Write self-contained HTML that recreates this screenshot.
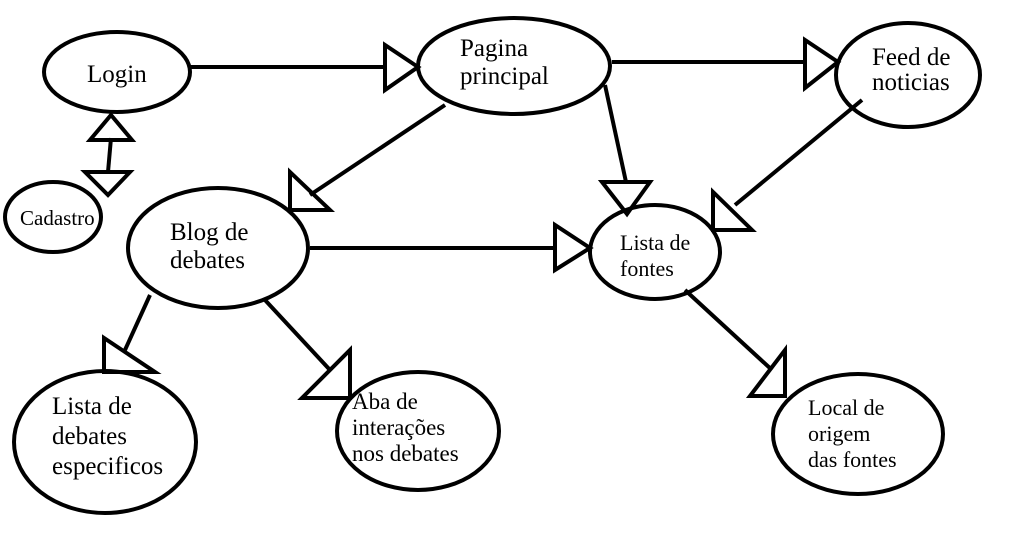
<!DOCTYPE html>
<html><head><style>
html,body{margin:0;padding:0;background:#fff;}
svg{display:block}
text{font-family:"Liberation Serif",serif;font-size:25px;fill:#000}
</style></head><body>
<svg width="1024" height="541" viewBox="0 0 1024 541" xmlns="http://www.w3.org/2000/svg">
<g fill="none" stroke="#000" stroke-width="4">
<ellipse cx="117" cy="72" rx="73" ry="40"/>
<ellipse cx="53" cy="217" rx="48" ry="35"/>
<ellipse cx="514" cy="66" rx="96" ry="48"/>
<ellipse cx="908" cy="75" rx="72" ry="52"/>
<ellipse cx="218" cy="248" rx="90" ry="60"/>
<ellipse cx="655" cy="252" rx="65" ry="47"/>
<ellipse cx="105" cy="442" rx="91" ry="71"/>
<ellipse cx="418" cy="431" rx="81" ry="59"/>
<ellipse cx="858" cy="434" rx="85" ry="60"/>
<line x1="190" y1="67" x2="385" y2="67"/>
<polygon points="385,45 385,90 418,67"/>
<line x1="111" y1="138" x2="108" y2="172"/>
<polygon points="90,140 132,140 111,115"/>
<polygon points="85,172 130,172 108,195"/>
<line x1="445" y1="105" x2="310" y2="195"/>
<polygon points="290,172 290,210 330,210"/>
<line x1="612" y1="62" x2="805" y2="62"/>
<polygon points="805,40 805,88 838,62"/>
<line x1="605" y1="85" x2="626" y2="182"/>
<polygon points="602,182 650,182 627,214"/>
<line x1="862" y1="100" x2="735" y2="205"/>
<polygon points="713,192 713,230 752,230"/>
<line x1="310" y1="248" x2="555" y2="248"/>
<polygon points="555,225 555,270 590,248"/>
<line x1="150" y1="295" x2="125" y2="350"/>
<polygon points="104,338 104,372 155,372"/>
<line x1="265" y1="300" x2="330" y2="370"/>
<polygon points="350,350 350,398 302,398"/>
<line x1="685" y1="290" x2="772" y2="370"/>
<polygon points="785,350 785,396 750,396"/>
</g>
<text x="87" y="82">Login</text>
<text x="20" y="225" style="font-size:21px">Cadastro</text>
<text x="460" y="56">Pagina</text>
<text x="460" y="84">principal</text>
<text x="872" y="65">Feed de</text>
<text x="872" y="90">noticias</text>
<text x="170" y="240">Blog de</text>
<text x="170" y="268">debates</text>
<text x="620" y="250" style="font-size:22px">Lista de</text>
<text x="620" y="276" style="font-size:22px">fontes</text>
<text x="52" y="414">Lista de</text>
<text x="52" y="444">debates</text>
<text x="52" y="474">especificos</text>
<text x="352" y="409" style="font-size:23px">Aba de</text>
<text x="352" y="435" style="font-size:23px">interações</text>
<text x="352" y="461" style="font-size:23px">nos debates</text>
<text x="808" y="415" style="font-size:22px">Local de</text>
<text x="808" y="441" style="font-size:22px">origem</text>
<text x="808" y="467" style="font-size:22px">das fontes</text>
</svg>
</body></html>
